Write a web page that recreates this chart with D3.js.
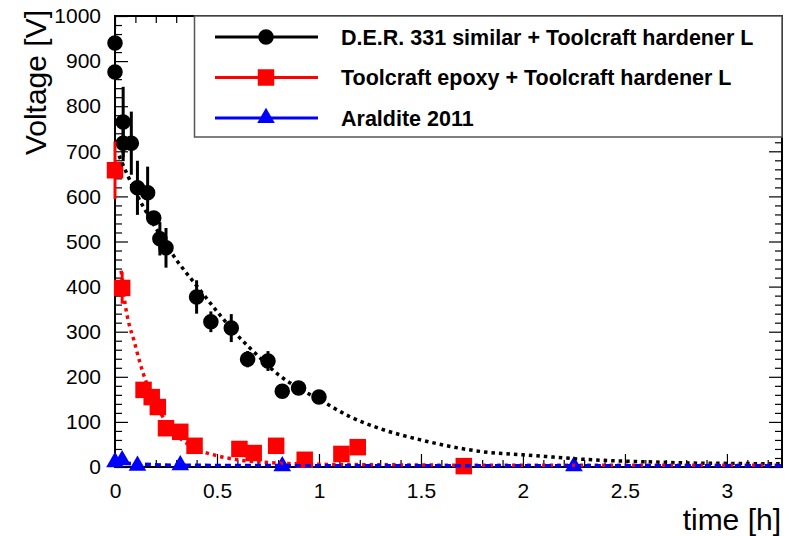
<!DOCTYPE html>
<html>
<head>
<meta charset="utf-8">
<script src="https://cdn.jsdelivr.net/npm/d3@7"></script>
<style>
  body { margin: 0; background: #fff; }
  svg { display: block; font-family: 'Liberation Sans', Arial, sans-serif; }
</style>
</head>
<body>
<svg id="chart" width="789" height="536"></svg>
<script>
// D.E.R. 331 similar + Toolcraft hardener L
var derTime = [0, 0, 0.04, 0.04, 0.08, 0.11, 0.16, 0.19, 0.22, 0.25, 0.40, 0.47, 0.57, 0.65, 0.75, 0.82, 0.90, 1.0];
var derVolt = [940, 876, 765, 718, 718, 619, 608, 552, 506, 486, 377, 322, 308, 239, 235, 168, 175, 155];
var derErr  = [8, 8, 78, 40, 70, 60, 58, 15, 37, 44, 37, 23, 31, 18, 22, 10, 10, 15];

// Toolcraft epoxy + Toolcraft hardener L
var epoxyTime = [0, 0.035, 0.14, 0.18, 0.21, 0.25, 0.32, 0.39, 0.61, 0.68, 0.79, 0.93, 1.11, 1.19, 1.71];
var epoxyVolt = [658, 397, 171, 155, 133, 86, 78, 47, 40, 31, 47, 16, 29, 44, 2];
var epoxyErr  = [64, 35, 5, 5, 5, 5, 5, 5, 5, 5, 5, 5, 5, 5, 5];

// Araldite 2011
var aralTime = [0, 0.035, 0.11, 0.32, 0.82, 2.25];
var aralVolt = [11, 15, 3, 4, 2, 2];
var aralErr  = [3, 3, 2, 2, 2, 2];

// fitted curves
var derFitTime = [0.02, 0.1, 0.2, 0.3, 0.4, 0.5, 0.6, 0.7, 0.8, 0.9, 1.0, 1.15, 1.3, 1.5, 1.65, 1.8, 2.0, 2.15, 2.3, 2.5, 2.65, 2.8, 3.0, 3.27];
var derFitVolt = [690, 610, 530, 460, 402, 345, 292, 247, 205, 175, 150, 112, 85, 60, 45, 34, 27, 22, 17, 13, 11, 9, 8, 7];
var epoxyFitTime = [0.03, 0.05, 0.07, 0.09, 0.12, 0.14, 0.2, 0.25, 0.3, 0.4, 0.5, 0.6, 0.75, 1.0, 1.3, 1.7, 2.2, 3.27];
var epoxyFitVolt = [435, 360, 315, 285, 235, 205, 140, 100, 72, 40, 25, 16, 10, 6, 5, 4, 4, 4];
var aralFitTime = [0, 0.1, 0.3, 1.0, 3.27];
var aralFitVolt = [10, 7, 4, 3, 3];

var seriesNames = ['D.E.R. 331 similar + Toolcraft hardener L', 'Toolcraft epoxy + Toolcraft hardener L', 'Araldite 2011'];

var xTicksMajor = [0, 0.5, 1, 1.5, 2, 2.5, 3];
var yTicksMajor = [0, 100, 200, 300, 400, 500, 600, 700, 800, 900, 1000];

function decayChart(id) {

  var svg = d3.select('#' + id),
      margin = { top: 16, right: 7, bottom: 69, left: 115 },
      width = +svg.attr('width') - margin.left - margin.right,
      height = +svg.attr('height') - margin.top - margin.bottom,
      g = svg.append('g').attr('transform', 'translate(' + margin.left + ',' + margin.top + ')');

  var x = d3.scaleLinear().domain([0, 3.27]).range([0, width]);
  var y = d3.scaleLinear().domain([0, 1000]).range([height, 0]);

  var xMinor = d3.range(0, 3.27, 0.1).filter(function(v) { return Math.abs(v * 2 - Math.round(v * 2)) > 1e-6; });
  var yMinor = d3.range(0, 1001, 20).filter(function(v) { return v % 100 !== 0; });

  var series = [
    { name: seriesNames[0], color: '#000', shape: d3.symbolCircle, size: 190, t: derTime, v: derVolt, e: derErr,
      ft: derFitTime, fv: derFitVolt, dash: '3.5,4' },
    { name: seriesNames[1], color: '#ff0000', shape: d3.symbolSquare, size: 272, t: epoxyTime, v: epoxyVolt, e: epoxyErr,
      ft: epoxyFitTime, fv: epoxyFitVolt, dash: '3.5,4' },
    { name: seriesNames[2], color: '#0000ff', shape: d3.symbolTriangle, size: 135, t: aralTime, v: aralVolt, e: aralErr,
      ft: aralFitTime, fv: aralFitVolt, dash: '6,4' }
  ];

  // axes: ROOT style, ticks inside the frame on all four sides
  function styleAxis(sel) {
    sel.select('.domain').remove();
    sel.selectAll('line').attr('stroke', '#000').attr('stroke-width', 1.2);
    sel.selectAll('text').attr('font-size', 21).attr('fill', '#000');
  }

  g.append('g').attr('transform', 'translate(0,' + height + ')')
      .call(d3.axisBottom(x).tickValues(xTicksMajor).tickSize(-13).tickPadding(16).tickFormat(d3.format('')))
      .call(styleAxis);
  g.append('g').attr('transform', 'translate(0,' + height + ')')
      .call(d3.axisBottom(x).tickValues(xMinor).tickSize(-7).tickFormat(''))
      .call(styleAxis);
  g.append('g')
      .call(d3.axisTop(x).tickValues(xTicksMajor).tickSize(-13).tickFormat(''))
      .call(styleAxis);
  g.append('g')
      .call(d3.axisTop(x).tickValues(xMinor).tickSize(-7).tickFormat(''))
      .call(styleAxis);

  g.append('g')
      .call(d3.axisLeft(y).tickValues(yTicksMajor).tickSize(-13).tickPadding(14).tickFormat(d3.format('d')))
      .call(styleAxis);
  g.append('g')
      .call(d3.axisLeft(y).tickValues(yMinor).tickSize(-7).tickFormat(''))
      .call(styleAxis);
  g.append('g').attr('transform', 'translate(' + width + ',0)')
      .call(d3.axisRight(y).tickValues(yTicksMajor).tickSize(-13).tickFormat(''))
      .call(styleAxis);
  g.append('g').attr('transform', 'translate(' + width + ',0)')
      .call(d3.axisRight(y).tickValues(yMinor).tickSize(-7).tickFormat(''))
      .call(styleAxis);

  // frame
  g.append('rect')
      .attr('width', width)
      .attr('height', height)
      .attr('fill', 'none')
      .attr('stroke', '#000')
      .attr('stroke-width', 2);

  // axis titles
  svg.append('text')
      .attr('transform', 'translate(46,10) rotate(-90)')
      .attr('text-anchor', 'end')
      .attr('font-size', 30)
      .text('Voltage [V]');

  svg.append('text')
      .attr('x', 781)
      .attr('y', 530)
      .attr('text-anchor', 'end')
      .attr('font-size', 30)
      .text('time [h]');

  var line = d3.line()
      .x(function(d) { return x(d[0]); })
      .y(function(d) { return y(d[1]); })
      .curve(d3.curveMonotoneX);

  series.forEach(function(s) {
    var pts = s.t.map(function(t, i) { return { t: t, v: s.v[i], e: s.e[i] }; });
    var layer = g.append('g');

    layer.selectAll('line.err')
      .data(pts)
      .enter().append('line')
        .attr('class', 'err')
        .attr('x1', function(d) { return x(d.t); })
        .attr('x2', function(d) { return x(d.t); })
        .attr('y1', function(d) { return y(d.v + d.e); })
        .attr('y2', function(d) { return y(Math.max(0, d.v - d.e)); })
        .attr('stroke', s.color)
        .attr('stroke-width', 3);

    layer.selectAll('path.mark')
      .data(pts)
      .enter().append('path')
        .attr('class', 'mark')
        .attr('transform', function(d) { return 'translate(' + x(d.t) + ',' + y(d.v) + ')'; })
        .attr('d', d3.symbol().type(s.shape).size(s.size))
        .attr('fill', s.color);
  });

  // fitted curves on top of markers
  series.forEach(function(s) {
    g.append('path')
        .datum(s.ft.map(function(t, i) { return [t, s.fv[i]]; }))
        .attr('d', line)
        .attr('fill', 'none')
        .attr('stroke', s.color)
        .attr('stroke-width', 3.5)
        .attr('stroke-dasharray', s.dash);
  });

  // legend
  var legend = svg.append('g');

  legend.append('rect')
      .attr('x', 194.5)
      .attr('y', 16)
      .attr('width', 587.5)
      .attr('height', 121)
      .attr('fill', '#fff')
      .attr('stroke', '#555')
      .attr('stroke-width', 1.5);

  var rows = legend.selectAll('g.row')
    .data(series)
    .enter().append('g')
      .attr('class', 'row')
      .attr('transform', function(d, i) { return 'translate(0,' + (37 + i * 40.5) + ')'; });

  rows.append('line')
      .attr('x1', 215)
      .attr('x2', 318)
      .attr('stroke', function(d) { return d.color; })
      .attr('stroke-width', 3);

  rows.append('path')
      .attr('transform', 'translate(266,0)')
      .attr('d', function(d) { return d3.symbol().type(d.shape).size(d.size)(); })
      .attr('fill', function(d) { return d.color; });

  rows.append('text')
      .attr('x', 341)
      .attr('dy', '0.36em')
      .attr('font-size', 21.5)
      .attr('font-weight', 'bold')
      .text(function(d) { return d.name; });
}

decayChart('chart');
</script>
</body>
</html>
